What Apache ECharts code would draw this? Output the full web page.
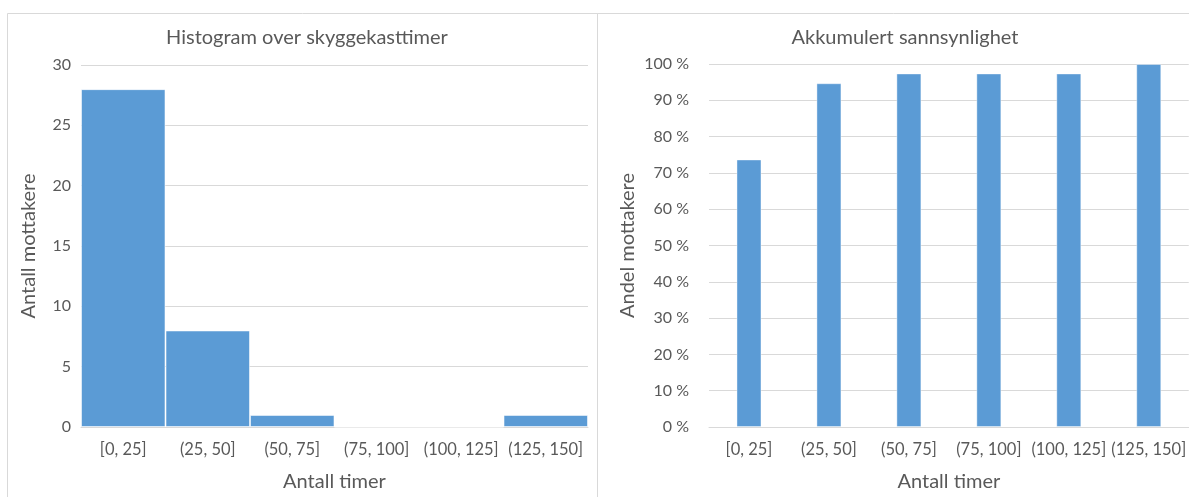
<!DOCTYPE html>
<html>
<head>
<meta charset="utf-8">
<script src="https://cdn.jsdelivr.net/npm/echarts@6/dist/echarts.min.js"></script>
<style>
html,body{margin:0;padding:0;background:#fff;overflow:hidden;}
#c{width:1189px;height:497px;}
</style>
</head>
<body>
<div id="c"></div>
<script>
const categories = ['[0, 25]', '(25, 50]', '(50, 75]', '(75, 100]', '(100, 125]', '(125, 150]'];
const counts = [28, 8, 1, 0, 0, 1];
const cumulative = [0.737, 0.947, 0.974, 0.974, 0.974, 1.0];
const leftTitle = 'Histogram over skyggekasttimer';
const rightTitle = 'Akkumulert sannsynlighet';
const xName = 'Antall timer';
const leftYName = 'Antall mottakere';
const rightYName = 'Andel mottakere';

const FONT = 'Lato';
const TXT = '#595959';
const GRID = '#d9d9d9';
const BAR = '#5B9BD5';

const chart = echarts.init(document.getElementById('c'), null, {renderer: 'canvas', width: 1189, height: 497});

function xAxis(idx) {
  return {
    type: 'category', gridIndex: idx, data: categories,
    axisLine: {lineStyle: {color: GRID, width: 1}},
    axisTick: {show: false},
    axisLabel: {color: TXT, fontFamily: FONT, fontSize: 16.5, margin: 14, interval: 0},
    name: xName, nameLocation: 'middle', nameGap: 45,
    nameTextStyle: {color: TXT, fontFamily: FONT, fontSize: 20}
  };
}

chart.setOption({
  animation: false,
  backgroundColor: '#fff',
  title: [
    {text: leftTitle, left: 302, top: 23, textAlign: 'center',
     textStyle: {color: TXT, fontFamily: FONT, fontSize: 20, fontWeight: 'normal'}},
    {text: rightTitle, left: 900, top: 23, textAlign: 'center',
     textStyle: {color: TXT, fontFamily: FONT, fontSize: 20, fontWeight: 'normal'}}
  ],
  graphic: [
    {type: 'rect', silent: true, shape: {x: 7.5, y: 13.5, width: 590, height: 520},
     style: {fill: 'none', stroke: GRID, lineWidth: 1}},
    {type: 'rect', silent: true, shape: {x: 597.5, y: 13.5, width: 620, height: 520},
     style: {fill: 'none', stroke: GRID, lineWidth: 1}}
  ],
  grid: [
    {left: 81, width: 507, top: 65, height: 362, containLabel: false},
    {left: 709, width: 482, top: 64, height: 363, containLabel: false}
  ],
  xAxis: [xAxis(0), xAxis(1)],
  yAxis: [
    {type: 'value', gridIndex: 0, min: 0, max: 30, interval: 5,
     axisLine: {show: false}, axisTick: {show: false},
     splitLine: {lineStyle: {color: GRID, width: 1}},
     axisLabel: {color: TXT, fontFamily: FONT, fontSize: 16, margin: 10},
     name: leftYName, nameLocation: 'middle', nameGap: 42, nameRotate: 90,
     nameTextStyle: {color: TXT, fontFamily: FONT, fontSize: 20}},
    {type: 'value', gridIndex: 1, min: 0, max: 1, interval: 0.1,
     axisLine: {show: false}, axisTick: {show: false},
     splitLine: {lineStyle: {color: GRID, width: 1}},
     axisLabel: {color: TXT, fontFamily: FONT, fontSize: 16, margin: 20,
       formatter: v => Math.round(v * 100) + '\u00a0%'},
     name: rightYName, nameLocation: 'middle', nameGap: 71, nameRotate: 90,
     nameTextStyle: {color: TXT, fontFamily: FONT, fontSize: 20}}
  ],
  series: [
    {type: 'bar', xAxisIndex: 0, yAxisIndex: 0, data: counts,
     barCategoryGap: '0%',
     itemStyle: {color: BAR, borderColor: 'rgba(255,255,255,0.55)', borderWidth: 1}},
    {type: 'bar', xAxisIndex: 1, yAxisIndex: 1, data: cumulative,
     barWidth: 25,
     itemStyle: {color: BAR, borderColor: 'rgba(255,255,255,0.4)', borderWidth: 1}}
  ]
});
</script>
</body>
</html>
